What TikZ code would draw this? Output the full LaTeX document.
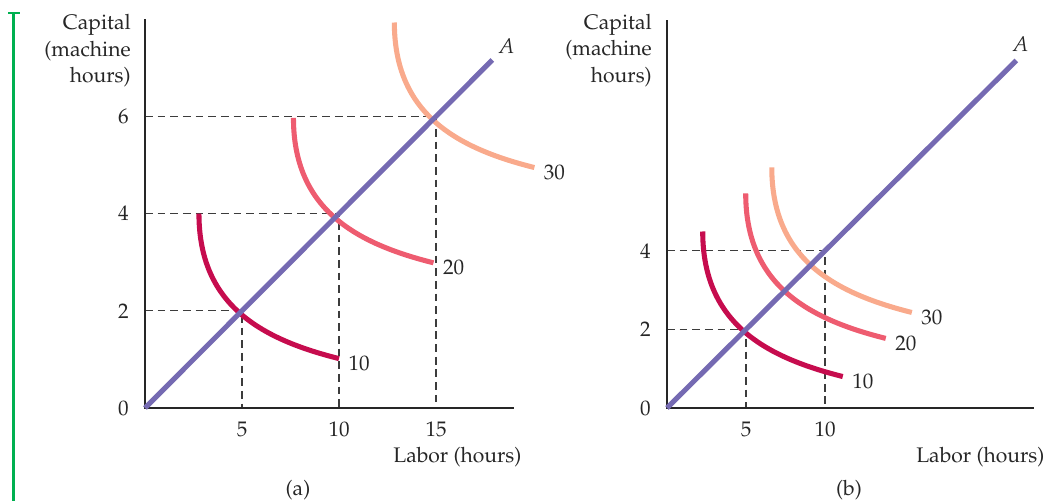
\documentclass[tikz,border=0pt]{standalone}
\usepackage[T1]{fontenc}
\usepackage{mathpazo}
\usepackage{tikz}
\definecolor{rayblue}{RGB}{117,106,178}
\definecolor{qten}{RGB}{198,12,78}
\definecolor{qtwenty}{RGB}{238,92,112}
\definecolor{qthirty}{RGB}{249,170,140}
\definecolor{guidegray}{RGB}{60,60,60}
\definecolor{markgreen}{RGB}{0,176,80}

\begin{document}
\begin{tikzpicture}[x=0.025cm,y=0.025cm,
    every node/.style={font=\fontsize{15}{18.8}\selectfont, inner sep=0pt, text=black!85},
    axis/.style={line width=1.1pt, draw=black!85},
    guide/.style={line width=0.9pt, draw=guidegray, dash pattern=on 5.5pt off 3.5pt},
    ray/.style={line width=3.6pt, draw=rayblue},
    quant/.style={line width=3.6pt},
    qlabel/.style={anchor=west, xshift=0.175cm, yshift=-0.125cm},
    ylab/.style={anchor=east, xshift=-0.4cm},
    xlab/.style={anchor=north, yshift=-0.35cm}]
    \useasboundingbox (0,0) rectangle (1048,501);

    % green marker at the left edge
    \draw[markgreen, line width=1.6pt] (8,488) -- (20,488) (13.5,488) -- (13.5,0);

    % panel (a)
    \begin{scope}[shift={(145,93)}, x=0.485cm, y=1.215cm]
        \coordinate (oa) at (0,0);
        \coordinate (ya) at (0,8);
        \coordinate (xa) at (19,0);
        \coordinate (pa1) at (5,2);
        \coordinate (pa2) at (10,4);
        \coordinate (pa3) at (15,6);
        \coordinate (ea) at (17.9,7.16);
        \coordinate (sa1) at (2.78,4);
        \coordinate (sa2) at (7.65,5.97);
        \coordinate (sa3) at (12.85,7.93);

        \draw[guide] (pa1 -| oa) -- (pa1) -- (pa1 |- oa);
        \draw[guide] (pa2 -| oa) -- (pa2) -- (pa2 |- oa);
        \draw[guide] (pa3 -| oa) -- (pa3) -- (pa3 |- oa);
        \draw[axis] (ya) -- (oa) -- (xa);

        \draw[quant, qten] (sa1) .. controls +(0,-2.25cm) and +(-2cm,0.5cm) .. ++(3.5cm,-3.625cm) node[qlabel] (la1) {10};
        \draw[quant, qtwenty] (sa2) .. controls +(0,-2.25cm) and +(-2cm,0.5cm) .. ++(3.5cm,-3.625cm) node[qlabel] (la2) {20};
        \draw[quant, qthirty] (sa3) .. controls +(0,-2.25cm) and +(-2cm,0.5cm) .. ++(3.5cm,-3.625cm) node[qlabel] (la3) {30};
        \draw[ray] (oa) -- (ea) node[anchor=south west, xshift=0.075cm, yshift=0.1cm] (aa) {$A$};

        \node[ylab] (ta0) at (oa) {0};
        \node[ylab] (ta2) at (0,2) {2};
        \node[ylab] (ta4) at (0,4) {4};
        \node[ylab] (ta6) at (0,6) {6};
        \node[xlab] (ua5) at (5,0) {5};
        \node[xlab] (ua10) at (10,0) {10};
        \node[xlab] (ua15) at (15,0) {15};

        \node[anchor=north east, align=right] (capa) at ([xshift=-0.35cm,yshift=0.12cm]ya) {Capital\\(machine\\hours)};
        \node[anchor=east] (laba) at ([xshift=0.2cm,yshift=-1.225cm]xa) {Labor (hours)};
    \end{scope}
    \node (capta) at (298,11) {(a)};

    % panel (b)
    \begin{scope}[shift={(667,93)}, x=0.395cm, y=0.9825cm]
        \coordinate (ob) at (0,0);
        \coordinate (yb) at (0,9.87);
        \coordinate (xb) at (23.2,0);
        \coordinate (pb1) at (5,2);
        \coordinate (pb2) at (10,4);
        \coordinate (eb) at (22.1,8.84);
        \coordinate (sb1) at (2.26,4.49);
        \coordinate (sb2) at (4.98,5.46);
        \coordinate (sb3) at (6.63,6.12);

        \draw[guide] (pb1 -| ob) -- (pb1) -- (pb1 |- ob);
        \draw[guide] (pb2 -| ob) -- (pb2) -- (pb2 |- ob);
        \draw[axis] (yb) -- (ob) -- (xb);

        \draw[quant, qten] (sb1) .. controls +(0,-2.25cm) and +(-2cm,0.5cm) .. ++(3.5cm,-3.625cm) node[qlabel] (lb1) {10};
        \draw[quant, qtwenty] (sb2) .. controls +(0,-2.25cm) and +(-2cm,0.5cm) .. ++(3.5cm,-3.625cm) node[qlabel] (lb2) {20};
        \draw[quant, qthirty] (sb3) .. controls +(0,-2.25cm) and +(-2cm,0.5cm) .. ++(3.5cm,-3.625cm) node[qlabel] (lb3) {30};
        \draw[ray] (ob) -- (eb) node[anchor=south, xshift=0.1cm, yshift=0.15cm] (ab) {$A$};

        \node[ylab] (tb0) at (ob) {0};
        \node[ylab] (tb2) at (0,2) {2};
        \node[ylab] (tb4) at (0,4) {4};
        \node[xlab] (ub5) at (5,0) {5};
        \node[xlab] (ub10) at (10,0) {10};

        \node[anchor=north east, align=right] (capb) at ([xshift=-0.375cm,yshift=0.15cm]yb) {Capital\\(machine\\hours)};
        \node[anchor=east] (labb) at ([xshift=0.275cm,yshift=-1.225cm]xb) {Labor (hours)};
    \end{scope}
    \node (captb) at (849,11) {(b)};
\end{tikzpicture}
\end{document}
